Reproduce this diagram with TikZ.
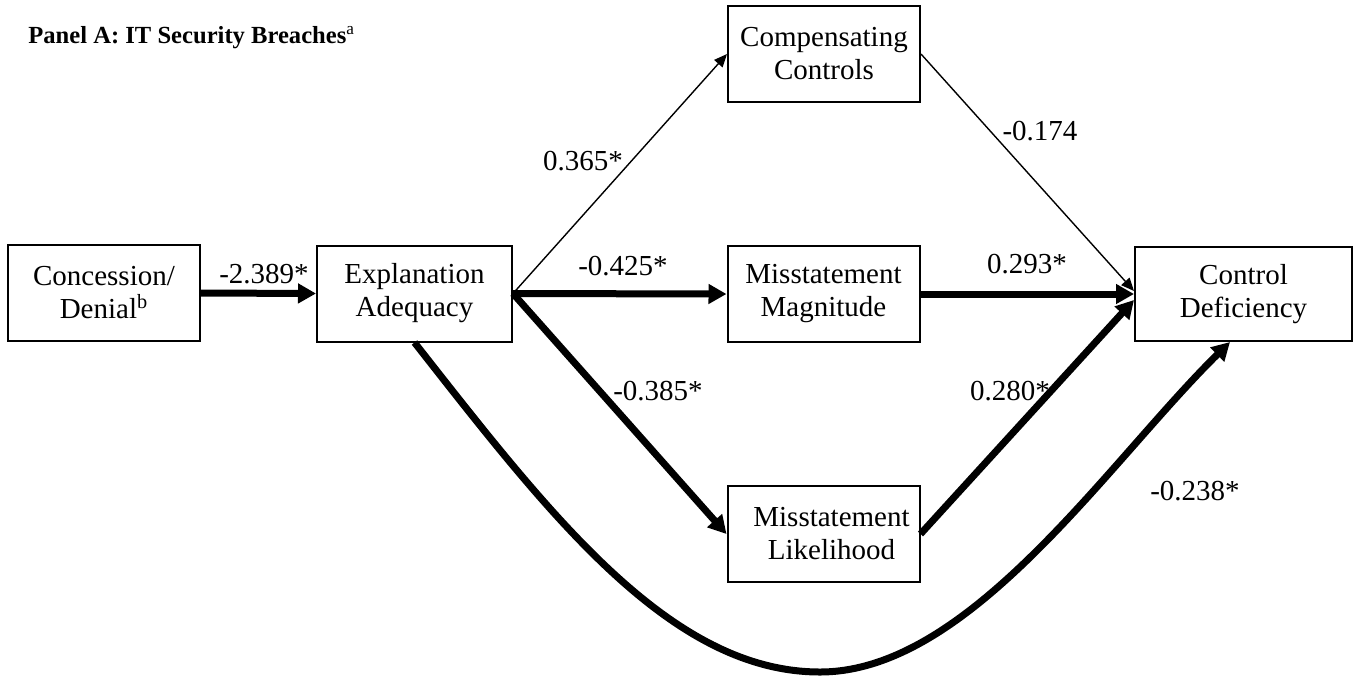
\documentclass[tikz,border=0pt]{standalone}
\usepackage{fontspec}
\setmainfont{Liberation Serif}
\usetikzlibrary{arrows.meta}
\begin{document}
\begin{tikzpicture}[x=0.5pt,y=-0.5pt,
  box/.style={draw,line width=1pt,inner sep=0pt,minimum width=96pt,minimum height=48pt,align=center,font=\fontsize{14.5}{16.5}\selectfont},
  lbl/.style={font=\fontsize{14.5}{16.5}\selectfont,inner sep=0pt,anchor=base},
  heavy/.style={line width=3.5pt,-{Triangle[length=9pt,width=9.5pt]}},
  light/.style={line width=0.7pt,-{Triangle[length=6.5pt,width=5.5pt]}}]
\useasboundingbox (0,0) rectangle (1359,681);

\node[anchor=base west,inner sep=0pt,font=\fontsize{12.3}{14}\selectfont\bfseries] (title) at (28,43) {Panel A: IT Security Breaches\textsuperscript{\normalfont a}};

\node[box] (conc) at (104,293) {Concession/\\Denial\textsuperscript{b}};
\node[box,minimum width=97.5pt] (expl) at (414.5,293.5) {Explanation\\Adequacy};
\node[box] (comp) at (824,54) {Compensating\\Controls};
\node[box] (mag) at (823.5,294) {Misstatement\\Magnitude};
\node[box] (lik) at (823.5,534) {\hspace*{8pt}Misstatement\\\hspace*{8pt}Likelihood};
\node[box,minimum width=108.5pt,minimum height=47pt] (ctrl) at (1243.5,294) {Control\\Deficiency};
\coordinate (bot) at (820,672);

\draw[heavy] (conc.east) -- (expl.west);
\draw[light] (expl.east) -- (comp.west);
\draw[heavy] (expl.east) -- (mag.west);
\draw[heavy] (expl.east) -- (lik.west);
\draw[light] (comp.east) -- ([yshift=1.5pt]ctrl.west);
\draw[heavy] (mag.east) -- (ctrl.west);
\draw[heavy] (lik.east) -- ([yshift=-3pt]ctrl.west);
\draw[heavy] (expl.south) .. controls +(135,172) and +(-150,0) .. (bot)
  .. controls +(150,0) and +(-122,120) .. ([xshift=-6.75pt]ctrl.south);

\node[lbl] (l1) at (264,283) {-2.389*};
\node[lbl] (l2) at (583,170) {0.365*};
\node[lbl] (l3) at (623,275) {-0.425*};
\node[lbl] (l4) at (658,400) {-0.385*};
\node[lbl] (l5) at (1040,140) {-0.174};
\node[lbl] (l6) at (1027,273) {0.293*};
\node[lbl] (l7) at (1010,400) {0.280*};
\node[lbl] (l8) at (1195,500) {-0.238*};
\end{tikzpicture}
\end{document}
